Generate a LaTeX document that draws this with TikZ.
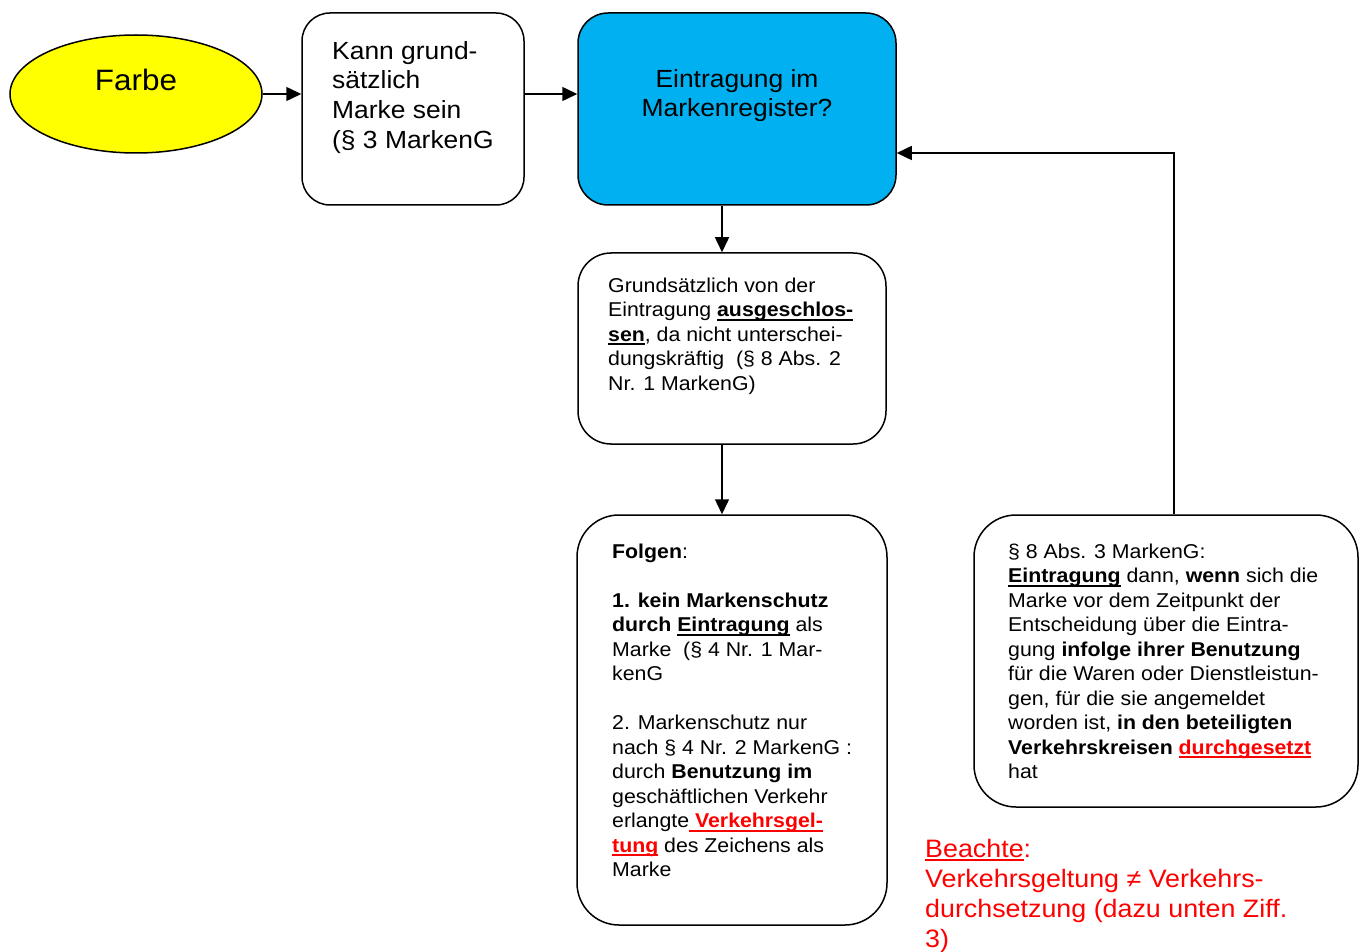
\documentclass[tikz,border=0pt]{standalone}
\usepackage{fontspec}
\setmainfont[FakeStretch=1.065]{Liberation Sans}
\usetikzlibrary{arrows.meta,shapes.geometric}
\definecolor{fyellow}{HTML}{FFFF00}
\definecolor{fblue}{HTML}{00B0F0}
\definecolor{fred}{HTML}{FF0000}
\newsavebox\ulbox
\newcommand\myul[2][1.9pt]{\sbox\ulbox{#2}\rlap{\rule[-3.9pt]{\wd\ulbox}{#1}}\usebox\ulbox}
\tikzset{
  rbox/.style={draw, line width=1.5pt, rounded corners=#1, fill=white, inner sep=0pt},
  txt/.style={anchor=north west, inner sep=0pt, align=left, font=\fontsize{20}{24.5}\selectfont},
  bigtxt/.style={inner sep=0pt, font=\fontsize{24.8}{29.8}\selectfont},
  arr/.style={line width=1.5pt, -{Triangle[length=15pt,width=14pt]}}
}
\begin{document}
\begin{tikzpicture}[x=1pt,y=-1pt]
\useasboundingbox (0,0) rectangle (1361,952);

% shapes
\node[ellipse, draw, line width=1.5pt, fill=fyellow, minimum width=252pt, minimum height=118pt, inner sep=0pt,
      font=\fontsize{29.5}{34}\selectfont, text height=21pt, text depth=27pt] (farbe) at (136,94) {Farbe};
\node[rbox=28pt, minimum width=222pt, minimum height=192pt] (b2) at (413,109) {};
\node[rbox=30pt, fill=fblue, minimum width=318pt, minimum height=192pt] (b3) at (737,109) {};
\node[rbox=33pt, minimum width=308pt, minimum height=191pt] (b4) at (732,348.5) {};
\node[rbox=42pt, minimum width=310pt, minimum height=410pt] (b5) at (732,720) {};
\node[rbox=42pt, minimum width=384pt, minimum height=292pt] (b6) at (1166,661) {};

% texts
\node[bigtxt, anchor=north west, align=left] (b2t) at (332,39.8)
  {\rule{0pt}{19.2pt}Kann grund-\\sätzlich\\Marke sein\\(§ 3 MarkenG};
\node[bigtxt, anchor=north, align=center] (b3t) at (737,67.8)
  {\rule{0pt}{19.2pt}Eintragung im\\Markenregister?};

\node[txt] (b4t) at (608,276)
  {\rule{0pt}{16pt}Grundsätzlich von der\\
   Eintragung \textbf{\myul{ausgeschlos-}}\\
   \textbf{\myul{sen}}, da nicht unterschei-\\
   dungskräftig\ \ (§ 8 Abs. 2\\
   Nr. 1 MarkenG)};

\node[txt] (b5t) at (612,542)
  {\rule{0pt}{16pt}\textbf{Folgen}:\\[24.5pt]
   \textbf{1. kein Markenschutz}\\
   \textbf{durch \myul{Eintragung}} als\\
   Marke\ \ (§ 4 Nr. 1 Mar-\\
   kenG\\[24.5pt]
   2. Markenschutz nur\\
   nach § 4 Nr. 2 MarkenG :\\
   durch \textbf{Benutzung im}\\
   geschäftlichen Verkehr\\
   erlangte{\color{fred}\bfseries\myul{ Verkehrsgel-}}\\
   {\color{fred}\bfseries\myul{tung}} des Zeichens als\\
   Marke};

\node[txt] (b6t) at (1008,542)
  {\rule{0pt}{16pt}§ 8 Abs. 3 MarkenG:\\
   \textbf{\myul{Eintragung}} dann, \textbf{wenn} sich die\\
   Marke vor dem Zeitpunkt der\\
   Entscheidung über die Eintra-\\
   gung \textbf{infolge ihrer Benutzung}\\
   für die Waren oder Dienstleistun-\\
   gen, für die sie angemeldet\\
   worden ist, \textbf{in den beteiligten}\\
   \textbf{Verkehrskreisen} {\color{fred}\bfseries\myul{durchgesetzt}}\\
   hat};

\node[anchor=north west, inner sep=0pt, align=left, text=fred, font=\fontsize{25.2}{30}\selectfont] (note) at (925,837)
  {\rule{0pt}{20pt}\myul[1.8pt]{Beachte}:\\
   Verkehrsgeltung ≠ Verkehrs-\\
   durchsetzung (dazu unten Ziff.\\
   3)};

% connectors
\coordinate (v) at (722,0);
\coordinate (k) at (1174,153);
\draw[arr] (farbe.east) -- (b2.west |- farbe.east);
\draw[arr] (b2.east |- farbe.east) -- (b3.west |- farbe.east);
\draw[arr] (b3.south -| v) -- (b4.north -| v);
\draw[arr] (b4.south -| v) -- (b5.north -| v);
\draw[arr] (b6.north -| k) |- (b3.east |- k);
\end{tikzpicture}
\end{document}
